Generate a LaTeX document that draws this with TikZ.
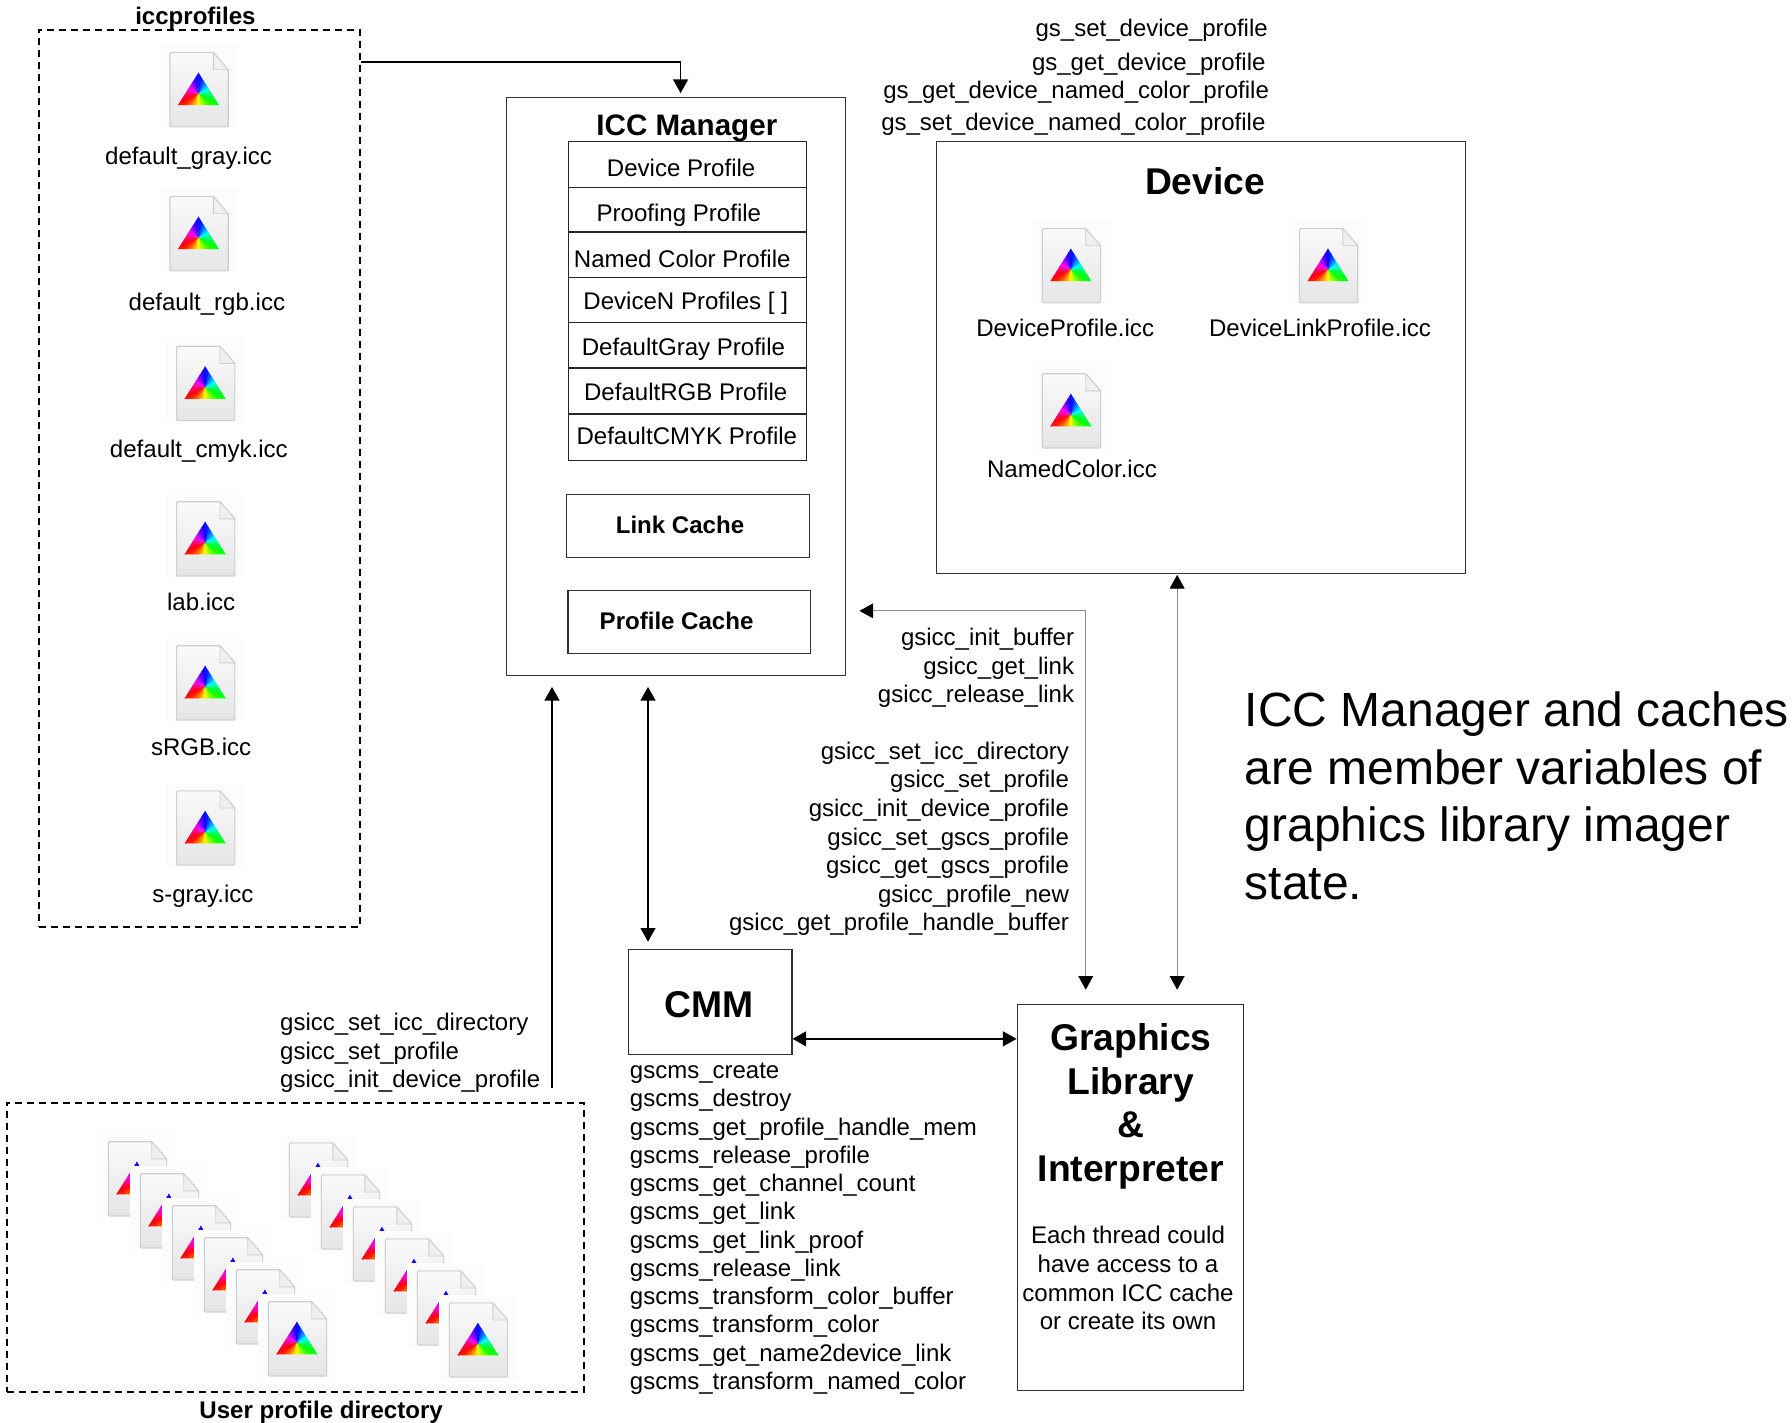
\documentclass[tikz,border=0pt]{standalone}
\usepackage{fontspec}
\setmainfont{Liberation Sans}
\usetikzlibrary{arrows.meta}
\definecolor{bgsq}{HTML}{FCFCFC}
\definecolor{pageedge}{HTML}{CFCFCF}
\definecolor{foldc}{HTML}{F0F0F0}
\tikzset{
  x=1pt,y=-1pt,
  iccicon/.pic={
    \fill[bgsq] (-9,-7) rectangle (59,67);
    \path[draw=pageedge,line width=1pt,top color=white!98!black,bottom color=white!90!black,rounded corners=1pt]
      (0,0) -- (38,0) -- (51,15) -- (51,65) -- (0,65) -- cycle;
    \fill[foldc,draw=pageedge,line width=.8pt] (38,0) -- (38,15) -- (51,15) -- cycle;
    \begin{scope}
      \clip (25,17.5) -- (43,46) -- (7,46) -- cycle;
      \foreach \a in {0,12,...,348}{
        \pgfmathtruncatemacro\hu{mod(\a+150+360,360)}
        \definecolor{wedgec}{Hsb}{\hu,1,1}
        \fill[wedgec] (25,36) -- +({-(\a-7)}:45) -- +({-(\a+7)}:45) -- cycle;
      }
    \end{scope}
  },
  regtxt/.style={inner sep=0pt,font=\fontsize{21.05}{25}\selectfont},
  listtxt/.style={inner sep=0pt,font=\fontsize{21}{25}\selectfont},
  boldtxt/.style={inner sep=0pt,font=\fontsize{21.05}{25}\selectfont\bfseries},
  headtxt/.style={inner sep=0pt,font=\fontsize{32.6}{38.1}\selectfont\bfseries},
  plainbox/.style={draw=black!80,line width=.9pt,inner sep=0pt},
  cellbox/.style={draw=black!85,line width=.8pt,inner sep=0pt,minimum width=209pt},
  dashbox/.style={draw=black,line width=1.5pt,dash pattern=on 6pt off 4.5pt,inner sep=0pt},
  link/.style={draw=black,line width=1.5pt,-{Triangle[length=12pt,width=13pt]}},
  linkboth/.style={draw=black,line width=1.5pt,{Triangle[length=12pt,width=13pt]}-{Triangle[length=12pt,width=13pt]}},
  thinboth/.style={draw=black!45,line width=.8pt,{Triangle[length=12pt,width=13pt,color=black]}-{Triangle[length=12pt,width=13pt,color=black]}},
}
\begin{document}
\begin{tikzpicture}
\useasboundingbox (0,0) rectangle (1568,1245.1);
\fill[white] (0,0) rectangle (1568,1245.1);

% containers
\node[dashbox,minimum width=281pt,minimum height=785pt] (iccdir) at (174.5,418.5) {};
\node[dashbox,minimum width=505pt,minimum height=253pt] (userdir) at (258.5,1091.5) {};
\node[plainbox,minimum width=297pt,minimum height=506pt] (mgr) at (591.5,338) {};
\node[plainbox,minimum width=462.5pt,minimum height=378pt] (dev) at (1050.7,313) {};
\node[plainbox,minimum width=143pt,minimum height=92pt] (cmm) at (621.5,877) {};
\node[plainbox,minimum width=198pt,minimum height=338pt] (gfx) at (989,1048) {};

% titles
\node[boldtxt,anchor=base] (t1) at (171,21) {iccprofiles};
\node[boldtxt,anchor=base] (t2) at (281,1241) {User profile directory};
\node[inner sep=0pt,anchor=base,font=\fontsize{25.9}{30}\selectfont\bfseries] (t3) at (601,118.5) {ICC Manager};
\node[headtxt,anchor=base] (t4) at (1054.5,170) {Device};
\node[headtxt,anchor=base] (t5) at (620.5,890) {CMM};
\node[headtxt,anchor=north,align=center] (t6) at (989.5,895.5) {Graphics\\Library\\\&\\Interpreter};
\node[regtxt,anchor=north,align=center] (t7) at (987,1073) {Each thread could\\have access to a\\common ICC cache\\or create its own};

% manager table
\node[cellbox,minimum height=40pt] (r1) at (601.5,143.7) {};
\node[cellbox,minimum height=39pt] (r2) at (601.5,183.4) {};
\node[cellbox,minimum height=40pt] (r3) at (601.5,223) {};
\node[cellbox,minimum height=39pt] (r4) at (601.5,262.5) {};
\node[cellbox,minimum height=40pt] (r5) at (601.5,302) {};
\node[cellbox,minimum height=39.5pt] (r6) at (601.5,341.7) {};
\node[cellbox,minimum height=40pt] (r7) at (601.5,382.5) {};
\node[regtxt,anchor=base] (c1) at (596,154) {Device Profile};
\node[regtxt,anchor=base] (c2) at (594,194) {Proofing Profile};
\node[regtxt,anchor=base] (c3) at (597,234) {Named Color Profile};
\node[regtxt,anchor=base] (c4) at (600,271) {DeviceN Profiles [ ]};
\node[regtxt,anchor=base] (c5) at (598,311) {DefaultGray Profile};
\node[regtxt,anchor=base] (c6) at (600,350) {DefaultRGB Profile};
\node[regtxt,anchor=base] (c7) at (601,389) {DefaultCMYK Profile};
\node[plainbox,minimum width=212pt,minimum height=55pt] (lc) at (602,460.5) {};
\node[plainbox,minimum width=212pt,minimum height=55pt] (pc) at (603,544.5) {};
\node[boldtxt,anchor=base] (lct) at (595,467) {Link Cache};
\node[boldtxt,anchor=base] (pct) at (592,551) {Profile Cache};

% icons in iccprofiles
\pic at (148.7,46) {iccicon};
\pic at (148.7,172) {iccicon};
\pic at (154.5,303) {iccicon};
\pic at (154.5,439) {iccicon};
\pic at (154.5,565) {iccicon};
\pic at (154.5,692) {iccicon};
\node[regtxt,anchor=base] (f1) at (165,143.5) {default\_gray.icc};
\node[regtxt,anchor=base] (f2) at (181,271.5) {default\_rgb.icc};
\node[regtxt,anchor=base] (f3) at (174,400) {default\_cmyk.icc};
\node[regtxt,anchor=base] (f4) at (176,534) {lab.icc};
\node[regtxt,anchor=base] (f5) at (176,661) {sRGB.icc};
\node[regtxt,anchor=base] (f6) at (177.5,790) {s-gray.icc};

% icons in device
\pic at (912,200) {iccicon};
\pic at (1137,200) {iccicon};
\pic at (912,327) {iccicon};
\node[regtxt,anchor=base] (d1) at (932,294) {DeviceProfile.icc};
\node[regtxt,anchor=base] (d2) at (1155,294) {DeviceLinkProfile.icc};
\node[regtxt,anchor=base] (d3) at (938,418) {NamedColor.icc};

% user directory icon stacks
\foreach \i in {0,...,5}{
  \pic at ({94.8+28*\i},{999+28*\i}) {iccicon};
  \pic at ({253.2+28*\i},{1000+28*\i}) {iccicon};
}

% device function names
\node[listtxt,anchor=base east] (g1) at (1109.5,32) {gs\_set\_device\_profile};
\node[listtxt,anchor=base east] (g2) at (1107.5,62) {gs\_get\_device\_profile};
\node[listtxt,anchor=base east] (g3) at (1110.5,86.5) {gs\_get\_device\_named\_color\_profile};
\node[listtxt,anchor=base east] (g4) at (1107.5,114.5) {gs\_set\_device\_named\_color\_profile};

% api lists
\node[listtxt,anchor=north east,align=right] (a1) at (940,549.5) {gsicc\_init\_buffer\\gsicc\_get\_link\\gsicc\_release\_link};
\node[listtxt,anchor=north east,align=right] (a2) at (935.5,649) {gsicc\_set\_icc\_directory\\gsicc\_set\_profile\\gsicc\_init\_device\_profile\\gsicc\_set\_gscs\_profile\\gsicc\_get\_gscs\_profile\\gsicc\_profile\_new\\gsicc\_get\_profile\_handle\_buffer};
\node[listtxt,anchor=north west,align=left] (a3) at (245,886.5) {gsicc\_set\_icc\_directory\\gsicc\_set\_profile\\gsicc\_init\_device\_profile};
\node[inner sep=0pt,anchor=north west,align=left,font=\fontsize{21}{24.73}\selectfont] (a4) at (551,930) {gscms\_create\\gscms\_destroy\\gscms\_get\_profile\_handle\_mem\\gscms\_release\_profile\\gscms\_get\_channel\_count\\gscms\_get\_link\\gscms\_get\_link\_proof\\gscms\_release\_link\\gscms\_transform\_color\_buffer\\gscms\_transform\_color\\gscms\_get\_name2device\_link\\gscms\_transform\_named\_color};

% note
\node[inner sep=0pt,anchor=north west,align=left,font=\fontsize{42}{50.5}\selectfont] (note) at (1089,605) {ICC Manager and caches\\are member variables of\\graphics library imager\\state.};

% connectors
\coordinate (e1) at (iccdir.east |- 0,54);
\coordinate (e2) at (595.5,81.5);
\draw[link] (e1) -| (e2);
\coordinate (e3) at (950,866);
\coordinate (e4) at (752,534.5);
\draw[thinboth] (e3) |- (e4);
\coordinate (e5) at (1030,503);
\coordinate (e6) at (1030,866);
\draw[thinboth] (e5) -- (e6);
\coordinate (e7) at (567,601);
\coordinate (e8) at (567,824);
\draw[linkboth] (e7) -- (e8);
\coordinate (e9) at (483,952);
\coordinate (e10) at (483,601);
\draw[link] (e9) -- (e10);
\coordinate (e11) at (cmm.east |- 0,909);
\coordinate (e12) at (gfx.west |- 0,909);
\draw[linkboth] (e11) -- (e12);
\end{tikzpicture}
\end{document}
